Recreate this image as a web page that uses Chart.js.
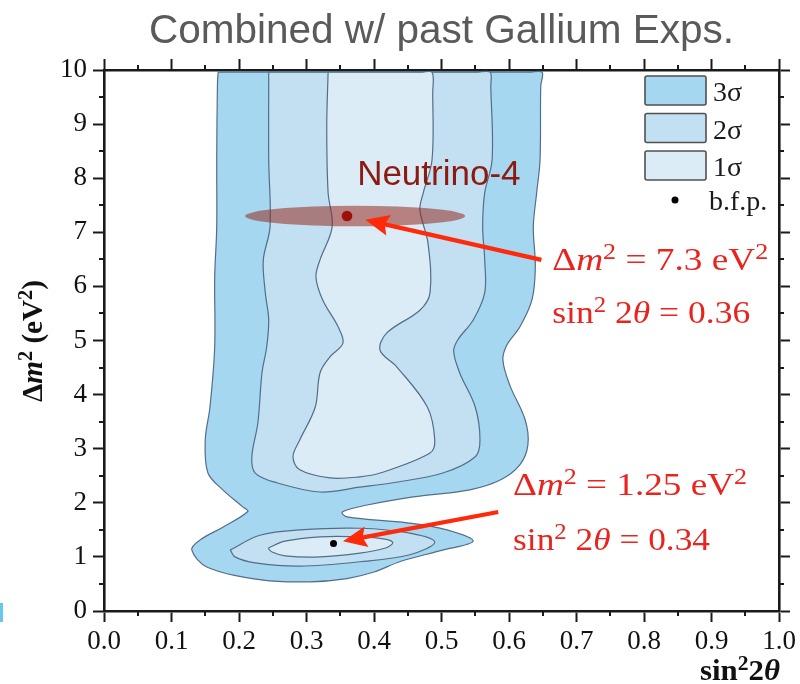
<!DOCTYPE html>
<html>
<head>
<meta charset="utf-8">
<title>Combined w/ past Gallium Exps.</title>
<script src="https://cdn.jsdelivr.net/npm/chart.js@4.4.1/dist/chart.umd.min.js"></script>
<style>
  html, body { margin: 0; padding: 0; background: #fff; }
</style>
</head>
<body>
<canvas id="myChart" width="800" height="684"></canvas>
<script>
// Contour outlines, as [sin^2 2theta, dm^2 (eV^2)]
var sigma3 = [
  [0.169, 9.96], [0.19, 9.96], [0.40, 9.96], [0.63, 9.96], [0.649, 9.96],
  [0.647, 9.7], [0.646, 8.34], [0.641, 7.73], [0.636, 7.10], [0.639, 6.36],
  [0.634, 5.75], [0.616, 5.25], [0.597, 4.92], [0.591, 4.64], [0.601, 4.18],
  [0.624, 3.53], [0.628, 3.07], [0.616, 2.70], [0.587, 2.42], [0.542, 2.24],
  [0.458, 2.11], [0.390, 1.96], [0.353, 1.83], [0.360, 1.74], [0.449, 1.63],
  [0.508, 1.50], [0.547, 1.29], [0.50, 1.12], [0.44, 0.92], [0.40, 0.72],
  [0.36, 0.60], [0.305, 0.54], [0.236, 0.57], [0.153, 0.81], [0.130, 1.13],
  [0.142, 1.31], [0.176, 1.55], [0.213, 1.84], [0.206, 1.92], [0.176, 2.24],
  [0.154, 2.55], [0.150, 3.16], [0.157, 3.77], [0.164, 4.88], [0.164, 6.17],
  [0.167, 7.10], [0.167, 8.34], [0.168, 9.7], [0.169, 9.96]
];
var sigma2 = [
  [0.244, 9.96], [0.265, 9.96], [0.40, 9.96], [0.552, 9.96], [0.572, 9.96],
  [0.573, 9.7], [0.575, 8.34], [0.564, 7.73], [0.561, 7.10], [0.564, 6.49],
  [0.564, 5.88], [0.547, 5.38], [0.524, 5.01], [0.518, 4.80], [0.527, 4.40],
  [0.550, 3.77], [0.557, 3.16], [0.550, 2.85], [0.502, 2.55], [0.428, 2.37],
  [0.379, 2.29], [0.320, 2.20], [0.256, 2.37], [0.224, 2.55], [0.219, 2.85],
  [0.228, 3.48], [0.234, 4.40], [0.241, 4.88], [0.244, 5.38], [0.239, 5.88],
  [0.236, 6.49], [0.246, 7.10], [0.244, 8.34], [0.244, 9.7], [0.244, 9.96]
];
var sigma2Low = [
  [0.187, 1.13], [0.231, 1.40], [0.290, 1.50], [0.379, 1.53], [0.453, 1.44],
  [0.490, 1.27], [0.453, 1.04], [0.379, 0.91], [0.290, 0.83], [0.224, 0.89],
  [0.194, 1.00], [0.187, 1.13]
];
var sigma1 = [
  [0.332, 9.96], [0.35, 9.96], [0.47, 9.96], [0.486, 9.96], [0.487, 9.58],
  [0.486, 8.34], [0.473, 7.73], [0.468, 7.41], [0.480, 6.80], [0.483, 5.88],
  [0.468, 5.56], [0.419, 5.14], [0.409, 4.82], [0.434, 4.51], [0.479, 3.77],
  [0.490, 3.16], [0.483, 2.92], [0.409, 2.55], [0.379, 2.48], [0.335, 2.46],
  [0.290, 2.61], [0.280, 2.85], [0.290, 3.16], [0.313, 3.77], [0.320, 4.40],
  [0.335, 4.70], [0.354, 4.95], [0.347, 5.25], [0.324, 5.75], [0.314, 6.17],
  [0.320, 6.49], [0.338, 7.10], [0.332, 7.73], [0.330, 8.95], [0.332, 9.96]
];
var sigma1Low = [
  [0.243, 1.16], [0.268, 1.29], [0.320, 1.37], [0.379, 1.37], [0.416, 1.33],
  [0.428, 1.26], [0.416, 1.16], [0.379, 1.07], [0.320, 1.00], [0.268, 1.02],
  [0.249, 1.09], [0.243, 1.16]
];
var bestFit = [[0.34, 1.25]];
var neutrino4 = [[0.36, 7.3]];

// Neutrino-4 band: centre x, centre y, half width, half height (data units)
var n4Band = [0.372, 7.30, 0.163, 0.19];
// arrows: [tail, tip] in data units
var arrowN4 = [[0.648, 6.49], [0.387, 7.23]];
var arrowGa = [[0.584, 1.83], [0.354, 1.29]];
// text anchors (data units)
var labelN4 = [0.375, 7.87];
var fitN4 = [[0.664, 6.30], [0.664, 5.32]];
var fitGa = [[0.606, 2.14], [0.606, 1.13]];

var c3 = '#a5d8f0', c2 = '#c2e0f1', c1 = '#dbecf6';
var edge = '#536d8a';
var axisColor = '#1a1a1a';
var serif = "'Liberation Serif', 'Times New Roman', serif";
var sans = "'Liberation Sans', Arial, sans-serif";

function pts(arr) {
  return arr.map(function (p) { return { x: p[0], y: p[1] }; });
}

function contour(label, arr, color) {
  return {
    label: label, data: pts(arr), showLine: true, fill: 'shape',
    backgroundColor: color, borderColor: edge, borderWidth: 1.2,
    pointRadius: 0, pointHoverRadius: 0, tension: 0.35
  };
}

// draws text made of parts [text, style]; style: i italic, s superscript
function richText(ctx, parts, x, y, size, opt) {
  function font(st) {
    var sz = st.indexOf('s') >= 0 ? size * 0.7 : size;
    return (st.indexOf('i') >= 0 ? 'italic ' : '') + (opt.bold ? 'bold ' : '') + sz + 'px ' + serif;
  }
  var w = 0;
  parts.forEach(function (p) { ctx.font = font(p[1] || ''); w += ctx.measureText(p[0]).width; });
  var sx = opt.width ? opt.width / w : 1;
  ctx.save();
  ctx.translate(x, y);
  if (opt.rotate) ctx.rotate(opt.rotate);
  var x0 = opt.center ? -w * sx / 2 : 0;
  ctx.scale(sx, 1);
  ctx.fillStyle = opt.color;
  ctx.textAlign = 'left';
  ctx.textBaseline = 'alphabetic';
  var cx = x0 / sx;
  parts.forEach(function (p) {
    var st = p[1] || '';
    ctx.font = font(st);
    ctx.fillText(p[0], cx, st.indexOf('s') >= 0 ? -size * 0.34 : 0);
    cx += ctx.measureText(p[0]).width;
  });
  ctx.restore();
}

function drawArrow(ctx, a, b) {
  var ang = Math.atan2(b[1] - a[1], b[0] - a[0]);
  var c = Math.cos(ang), s = Math.sin(ang);
  var hl = 24, hw = 10.5;
  var bx = b[0] - hl * c, by = b[1] - hl * s;
  ctx.strokeStyle = ctx.fillStyle = '#ff2a0a';
  ctx.lineWidth = 4.3;
  ctx.beginPath();
  ctx.moveTo(a[0], a[1]);
  ctx.lineTo(bx + 6 * c, by + 6 * s);
  ctx.stroke();
  ctx.beginPath();
  ctx.moveTo(b[0], b[1]);
  ctx.lineTo(bx - hw * s, by + hw * c);
  ctx.lineTo(bx + 4 * c, by + 4 * s);
  ctx.lineTo(bx + hw * s, by - hw * c);
  ctx.closePath();
  ctx.fill();
}

var extras = {
  id: 'extras',
  afterDatasetDraw: function (chart, args) {
    // the Neutrino-4 band sits over the contours, under the dots
    if (args.index !== 2) return;
    var ctx = chart.ctx, sx = chart.scales.x, sy = chart.scales.y, a = chart.chartArea;
    var cx = sx.getPixelForValue(n4Band[0]), cy = sy.getPixelForValue(n4Band[1]);
    var rx = sx.getPixelForValue(n4Band[0] + n4Band[2]) - cx;
    var ry = cy - sy.getPixelForValue(n4Band[1] + n4Band[3]);
    ctx.save();
    ctx.beginPath();
    ctx.rect(a.left, a.top, a.right - a.left, a.bottom - a.top);
    ctx.clip();
    ctx.fillStyle = 'rgba(150, 42, 32, 0.55)';
    ctx.beginPath();
    ctx.ellipse(cx, cy, rx, ry, 0, 0, Math.PI * 2);
    ctx.fill();
    ctx.restore();
  },
  afterDraw: function (chart) {
    var ctx = chart.ctx, sx = chart.scales.x, sy = chart.scales.y, a = chart.chartArea;
    function P(p) { return [sx.getPixelForValue(p[0]), sy.getPixelForValue(p[1])]; }
    ctx.save();

    // minor ticks on all four sides
    ctx.strokeStyle = axisColor;
    ctx.lineWidth = 2;
    ctx.beginPath();
    for (var i = 0; i < 10; i++) {
      var xp = Math.round(sx.getPixelForValue(0.05 + i * 0.1));
      ctx.moveTo(xp, a.bottom); ctx.lineTo(xp, a.bottom + 5);
      ctx.moveTo(xp, a.top); ctx.lineTo(xp, a.top - 5);
      var yp = Math.round(sy.getPixelForValue(0.5 + i));
      ctx.moveTo(a.left, yp); ctx.lineTo(a.left - 5, yp);
      ctx.moveTo(a.right, yp); ctx.lineTo(a.right + 5, yp);
    }
    ctx.stroke();

    // arrows
    drawArrow(ctx, P(arrowN4[0]), P(arrowN4[1]));
    drawArrow(ctx, P(arrowGa[0]), P(arrowGa[1]));

    // Neutrino-4 label
    var p = P(labelN4);
    ctx.fillStyle = '#8c1a10';
    ctx.font = '35px ' + sans;
    ctx.textAlign = 'left';
    ctx.textBaseline = 'alphabetic';
    ctx.fillText('Neutrino-4', p[0], p[1]);

    // fit values
    var red = '#e8241e';
    p = P(fitN4[0]);
    richText(ctx, [['\u0394'], ['m', 'i'], ['2', 's'], [' = 7.3 eV'], ['2', 's']], p[0], p[1], 32, { color: red, width: 216 });
    p = P(fitN4[1]);
    richText(ctx, [['sin'], ['2', 's'], [' 2'], ['\u03b8', 'i'], [' = 0.36']], p[0], p[1], 32, { color: red, width: 198 });
    p = P(fitGa[0]);
    richText(ctx, [['\u0394'], ['m', 'i'], ['2', 's'], [' = 1.25 eV'], ['2', 's']], p[0], p[1], 32, { color: red, width: 234 });
    p = P(fitGa[1]);
    richText(ctx, [['sin'], ['2', 's'], [' 2'], ['\u03b8', 'i'], [' = 0.34']], p[0], p[1], 32, { color: red, width: 197 });

    // axis titles
    richText(ctx, [['\u0394'], ['m', 'i'], ['2', 's'], [' (eV'], ['2', 's'], [')']], 42, 341, 30,
      { color: '#111', bold: true, center: true, rotate: -Math.PI / 2, width: 122 });
    richText(ctx, [['sin'], ['2', 's'], ['2'], ['\u03b8', 'i']], 700, 680, 30,
      { color: '#111', bold: true, width: 80 });

    // legend
    var ds = chart.data.datasets;
    var entries = [[ds[6].label, c3], [ds[4].label, c2], [ds[2].label, c1]];
    var lx = a.right - 134, ly = a.top + 6;
    entries.forEach(function (e, k) {
      var top = ly + k * 37.5;
      ctx.fillStyle = e[1];
      ctx.strokeStyle = '#505050';
      ctx.lineWidth = 1.6;
      ctx.beginPath();
      if (ctx.roundRect) ctx.roundRect(lx, top, 61, 29, 2); else ctx.rect(lx, top, 61, 29);
      ctx.fill();
      ctx.stroke();
      ctx.fillStyle = '#1a1a1a';
      ctx.font = '28px ' + serif;
      ctx.fillText(e[0], lx + 68, top + 25);
    });
    ctx.fillStyle = '#000';
    ctx.beginPath();
    ctx.arc(lx + 30, ly + 124, 3.5, 0, Math.PI * 2);
    ctx.fill();
    ctx.fillStyle = '#1a1a1a';
    ctx.fillText(ds[0].label, lx + 64, ly + 134);

    // stray mark at the left edge of the picture
    ctx.fillStyle = '#66c8ef';
    ctx.fillRect(0, 603, 3, 19);
    ctx.restore();
  }
};

function sideAxis(pos, min, max, step, size) {
  var horiz = pos === 'top' || pos === 'bottom';
  return {
    type: 'linear', position: pos, min: min, max: max,
    ticks: {
      display: pos === 'bottom' || pos === 'left',
      stepSize: step, autoSkip: false, maxRotation: 0,
      color: '#111', padding: horiz ? 4 : 6,
      font: { family: serif, size: 27 },
      callback: function (v) { return step < 1 ? Number(v).toFixed(1) : String(v); }
    },
    grid: { drawOnChartArea: false, drawTicks: true, tickLength: 11, tickWidth: 2, tickColor: axisColor },
    border: { display: true, width: 2.6, color: axisColor },
    afterFit: function (scale) {
      if (horiz) scale.height = size; else scale.width = size;
    }
  };
}

var ctx = document.getElementById('myChart').getContext('2d');
var chart = new Chart(ctx, {
  type: 'scatter',
  data: {
    datasets: [
      { label: 'b.f.p.', data: pts(bestFit), pointRadius: 3.5, pointBackgroundColor: '#000', pointBorderWidth: 0 },
      { label: 'Neutrino-4', data: pts(neutrino4), pointRadius: 5.3, pointBackgroundColor: '#9c1208', pointBorderWidth: 0 },
      contour('1\u03c3', sigma1, c1),
      contour('1\u03c3', sigma1Low, c1),
      contour('2\u03c3', sigma2, c2),
      contour('2\u03c3', sigma2Low, c2),
      contour('3\u03c3', sigma3, c3)
    ]
  },
  options: {
    responsive: false,
    animation: false,
    events: [],
    layout: { padding: 0 },
    plugins: {
      legend: { display: false },
      tooltip: { enabled: false },
      title: {
        display: true,
        fullSize: false,
        text: 'Combined w/ past Gallium Exps.',
        color: '#5a5a5a',
        font: { family: sans, size: 40.5, weight: 'normal', lineHeight: 1.2 },
        padding: { top: 8, bottom: 0 }
      }
    },
    scales: {
      x: sideAxis('bottom', 0, 1, 0.1, 73),
      x2: sideAxis('top', 0, 1, 0.1, 13.4),
      y: sideAxis('left', 0, 10, 1, 104),
      y2: sideAxis('right', 0, 10, 1, 21)
    }
  },
  plugins: [extras]
});
</script>
</body>
</html>
